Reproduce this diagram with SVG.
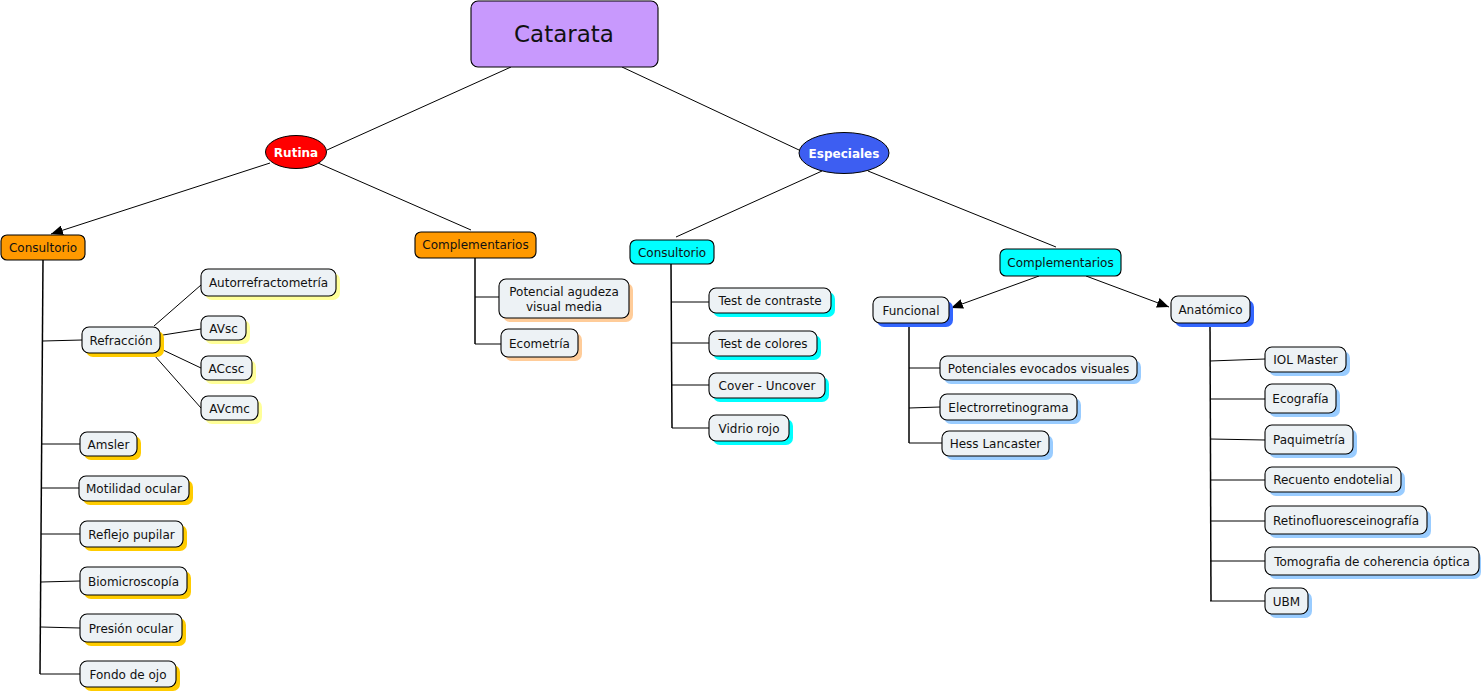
<svg xmlns="http://www.w3.org/2000/svg" width="1484" height="694" viewBox="0 0 1484 694">
<defs>
<style>
.n{fill:#edf2f5;stroke:#000;stroke-width:1.1}
.t{font-family:'DejaVu Sans',Verdana,sans-serif;font-size:12px;fill:#111;text-anchor:middle}
.tb{font-family:'DejaVu Sans',Verdana,sans-serif;font-size:12px;font-weight:bold;fill:#fff;text-anchor:middle}
.c{stroke:#000;stroke-width:1;fill:none}
.v{stroke:#000;stroke-width:1.5;fill:none}
.gold{fill:#ffcc00}
.lyel{fill:#ffff99}
.peach{fill:#ffcc99}
.cyan{fill:#00ffff}
.blue{fill:#3366ff}
.lblue{fill:#99ccff}
</style>
<marker id="arr" viewBox="0 0 12 10" refX="12" refY="5" markerWidth="12" markerHeight="10" markerUnits="userSpaceOnUse" orient="auto">
<path d="M0,0 L12,5 L0,10 z" fill="#000"/>
</marker>
</defs>
<rect width="1484" height="694" fill="#fff"/>
<g id="connectors">
<line class="c" x1="511" y1="67" x2="327" y2="150"/>
<line class="c" x1="622" y1="67" x2="799" y2="150"/>
<line class="c" x1="270" y1="163" x2="51" y2="234" marker-end="url(#arr)"/>
<line class="c" x1="318" y1="163" x2="471" y2="230"/>
<line class="c" x1="822" y1="171" x2="676" y2="237"/>
<line class="c" x1="868" y1="171" x2="1056" y2="247"/>
<line class="c" x1="1039" y1="276" x2="951" y2="308" marker-end="url(#arr)"/>
<line class="c" x1="1086" y1="276" x2="1169" y2="307" marker-end="url(#arr)"/>
<line class="v" x1="43" y1="260" x2="40" y2="674"/>
<line class="c" x1="43" y1="341" x2="82" y2="340"/>
<line class="c" x1="42" y1="444" x2="80" y2="444"/>
<line class="c" x1="42" y1="488" x2="79" y2="488"/>
<line class="c" x1="41" y1="534" x2="80" y2="534"/>
<line class="c" x1="41" y1="582" x2="80" y2="581"/>
<line class="c" x1="41" y1="627" x2="80" y2="628"/>
<line class="c" x1="40" y1="674" x2="80" y2="674"/>
<line class="c" x1="154" y1="326" x2="201" y2="285"/>
<line class="c" x1="163" y1="335" x2="201" y2="329"/>
<line class="c" x1="163" y1="350" x2="201" y2="368"/>
<line class="c" x1="154" y1="355" x2="201" y2="408"/>
<line class="v" x1="475" y1="258" x2="475" y2="344"/>
<line class="c" x1="475" y1="297" x2="499" y2="297"/>
<line class="c" x1="475" y1="344" x2="501" y2="344"/>
<line class="v" x1="671" y1="264" x2="672" y2="428"/>
<line class="c" x1="672" y1="302" x2="709" y2="302"/>
<line class="c" x1="672" y1="343" x2="709" y2="343"/>
<line class="c" x1="672" y1="385" x2="709" y2="385"/>
<line class="c" x1="672" y1="428" x2="709" y2="428"/>
<line class="v" x1="909" y1="323" x2="909" y2="443"/>
<line class="c" x1="909" y1="368" x2="940" y2="368"/>
<line class="c" x1="909" y1="408" x2="940" y2="407"/>
<line class="c" x1="909" y1="443" x2="942" y2="443"/>
<line class="v" x1="1210" y1="323" x2="1211" y2="601"/>
<line class="c" x1="1210" y1="361" x2="1265" y2="359"/>
<line class="c" x1="1210" y1="399" x2="1265" y2="399"/>
<line class="c" x1="1210" y1="439" x2="1265" y2="440"/>
<line class="c" x1="1210" y1="480" x2="1265" y2="480"/>
<line class="c" x1="1210" y1="521" x2="1265" y2="521"/>
<line class="c" x1="1210" y1="561" x2="1265" y2="561"/>
<line class="c" x1="1210" y1="601" x2="1265" y2="601"/>
</g>
<g id="catarata"><rect x="471" y="1" width="187" height="66" rx="7" fill="#c899fd" stroke="#000" stroke-width="1.1"/><text x="564" y="42" font-family="'DejaVu Sans',Verdana,sans-serif" font-size="23" text-anchor="middle" fill="#111">Catarata</text></g>
<g id="rutina"><ellipse cx="296" cy="152" rx="30.5" ry="16.5" fill="#ff0000" stroke="#000" stroke-width="1"/><text class="tb" x="296" y="156.5">Rutina</text></g>
<g id="especiales"><ellipse cx="844" cy="153" rx="45" ry="20.5" fill="#3d5ef2" stroke="#000" stroke-width="1"/><text class="tb" x="844" y="157.5">Especiales</text></g>
<g id="consultorio-r"><rect x="1" y="235" width="84" height="25" rx="6" fill="#ff9900" stroke="#000" stroke-width="1.1"/><text class="t" x="43" y="252">Consultorio</text></g>
<g id="complementarios-r"><rect x="415" y="232" width="121" height="26" rx="6" fill="#ff9900" stroke="#000" stroke-width="1.1"/><text class="t" x="475.5" y="249">Complementarios</text></g>
<g id="consultorio-e"><rect x="630" y="240" width="84" height="24" rx="6" fill="#00ffff" stroke="#000" stroke-width="1.1"/><text class="t" x="672" y="256.5">Consultorio</text></g>
<g id="complementarios-e"><rect x="1000" y="249" width="121" height="27" rx="6" fill="#00ffff" stroke="#000" stroke-width="1.1"/><text class="t" x="1060.5" y="267">Complementarios</text></g>

<g id="refraccion"><rect class="gold" x="86" y="331" width="78" height="26" rx="7"/><rect class="n" x="82" y="327" width="78" height="26" rx="7"/><text class="t" x="121" y="344.5">Refracción</text></g>
<g id="autorrefractometria"><rect class="lyel" x="205" y="273" width="135" height="27" rx="7"/><rect class="n" x="201" y="269" width="135" height="27" rx="7"/><text class="t" x="268.5" y="287">Autorrefractometría</text></g>
<g id="avsc"><rect class="lyel" x="205" y="320" width="45" height="24" rx="7"/><rect class="n" x="201" y="316" width="45" height="24" rx="7"/><text class="t" x="223.5" y="332.5">AVsc</text></g>
<g id="accsc"><rect class="lyel" x="205" y="360" width="51" height="24" rx="7"/><rect class="n" x="201" y="356" width="51" height="24" rx="7"/><text class="t" x="226.5" y="372.5">ACcsc</text></g>
<g id="avcmc"><rect class="lyel" x="205" y="400" width="57" height="24" rx="7"/><rect class="n" x="201" y="396" width="57" height="24" rx="7"/><text class="t" x="229.5" y="412.5">AVcmc</text></g>
<g id="amsler"><rect class="gold" x="84" y="436" width="57" height="24" rx="7"/><rect class="n" x="80" y="432" width="57" height="24" rx="7"/><text class="t" x="108.5" y="448.5">Amsler</text></g>
<g id="motilidad"><rect class="gold" x="83" y="480" width="110" height="25" rx="7"/><rect class="n" x="79" y="476" width="110" height="25" rx="7"/><text class="t" x="134" y="493">Motilidad ocular</text></g>
<g id="reflejo"><rect class="gold" x="84" y="525" width="103" height="26" rx="7"/><rect class="n" x="80" y="521" width="103" height="26" rx="7"/><text class="t" x="131.5" y="538.5">Reflejo pupilar</text></g>
<g id="biomicroscopia"><rect class="gold" x="84" y="571" width="107" height="28" rx="7"/><rect class="n" x="80" y="567" width="107" height="28" rx="7"/><text class="t" x="133.5" y="585.5">Biomicroscopía</text></g>
<g id="presion"><rect class="gold" x="84" y="618" width="102" height="28" rx="7"/><rect class="n" x="80" y="614" width="102" height="28" rx="7"/><text class="t" x="131" y="632.5">Presión ocular</text></g>
<g id="fondo"><rect class="gold" x="84" y="665" width="96" height="26" rx="7"/><rect class="n" x="80" y="661" width="96" height="26" rx="7"/><text class="t" x="128" y="678.5">Fondo de ojo</text></g>

<g id="potencial"><rect class="peach" x="503" y="283" width="130" height="39" rx="7"/><rect class="n" x="499" y="279" width="130" height="39" rx="7"/><text class="t" x="564" y="296">Potencial agudeza</text><text class="t" x="564" y="311">visual media</text></g>
<g id="ecometria"><rect class="peach" x="505" y="333" width="77" height="28" rx="7"/><rect class="n" x="501" y="329" width="77" height="28" rx="7"/><text class="t" x="539.5" y="347.5">Ecometría</text></g>

<g id="contraste"><rect class="cyan" x="713" y="292" width="122" height="25" rx="7"/><rect class="n" x="709" y="288" width="122" height="25" rx="7"/><text class="t" x="770" y="305">Test de contraste</text></g>
<g id="colores"><rect class="cyan" x="713" y="335" width="108" height="25" rx="7"/><rect class="n" x="709" y="331" width="108" height="25" rx="7"/><text class="t" x="763" y="348">Test de colores</text></g>
<g id="cover"><rect class="cyan" x="713" y="377" width="116" height="25" rx="7"/><rect class="n" x="709" y="373" width="116" height="25" rx="7"/><text class="t" x="767" y="390">Cover - Uncover</text></g>
<g id="vidrio"><rect class="cyan" x="713" y="419" width="80" height="26" rx="7"/><rect class="n" x="709" y="415" width="80" height="26" rx="7"/><text class="t" x="749" y="432.5">Vidrio rojo</text></g>

<g id="funcional"><rect class="blue" x="877" y="301" width="76" height="26" rx="7"/><rect class="n" x="873" y="297" width="76" height="26" rx="7"/><text class="t" x="911" y="314.5">Funcional</text></g>
<g id="anatomico"><rect class="blue" x="1175" y="300" width="79" height="27" rx="7"/><rect class="n" x="1171" y="296" width="79" height="27" rx="7"/><text class="t" x="1210.5" y="314">Anatómico</text></g>

<g id="pev"><rect class="lblue" x="944" y="360" width="197" height="24" rx="7"/><rect class="n" x="940" y="356" width="197" height="24" rx="7"/><text class="t" x="1038.5" y="372.5">Potenciales evocados visuales</text></g>
<g id="erg"><rect class="lblue" x="944" y="398" width="137" height="26" rx="7"/><rect class="n" x="940" y="394" width="137" height="26" rx="7"/><text class="t" x="1008.5" y="411.5">Electrorretinograma</text></g>
<g id="hess"><rect class="lblue" x="946" y="435" width="107" height="25" rx="7"/><rect class="n" x="942" y="431" width="107" height="25" rx="7"/><text class="t" x="995.5" y="448">Hess Lancaster</text></g>

<g id="iol"><rect class="lblue" x="1269" y="351" width="81" height="25" rx="7"/><rect class="n" x="1265" y="347" width="81" height="25" rx="7"/><text class="t" x="1305.5" y="364">IOL Master</text></g>
<g id="ecografia"><rect class="lblue" x="1269" y="388" width="71" height="29" rx="7"/><rect class="n" x="1265" y="384" width="71" height="29" rx="7"/><text class="t" x="1300.5" y="402.5">Ecografía</text></g>
<g id="paquimetria"><rect class="lblue" x="1269" y="429" width="88" height="29" rx="7"/><rect class="n" x="1265" y="425" width="88" height="29" rx="7"/><text class="t" x="1309" y="443.5">Paquimetría</text></g>
<g id="recuento"><rect class="lblue" x="1269" y="471" width="136" height="25" rx="7"/><rect class="n" x="1265" y="467" width="136" height="25" rx="7"/><text class="t" x="1333" y="484">Recuento endotelial</text></g>
<g id="retino"><rect class="lblue" x="1269" y="510" width="162" height="28" rx="7"/><rect class="n" x="1265" y="506" width="162" height="28" rx="7"/><text class="t" x="1346" y="524.5">Retinofluoresceinografía</text></g>
<g id="tomografia"><rect class="lblue" x="1269" y="551" width="212" height="28" rx="7"/><rect class="n" x="1265" y="547" width="214" height="28" rx="7"/><text class="t" x="1372" y="565.5">Tomografia de coherencia óptica</text></g>
<g id="ubm"><rect class="lblue" x="1269" y="592" width="43" height="26" rx="7"/><rect class="n" x="1265" y="588" width="43" height="26" rx="7"/><text class="t" x="1286.5" y="605.5">UBM</text></g>
</svg>
